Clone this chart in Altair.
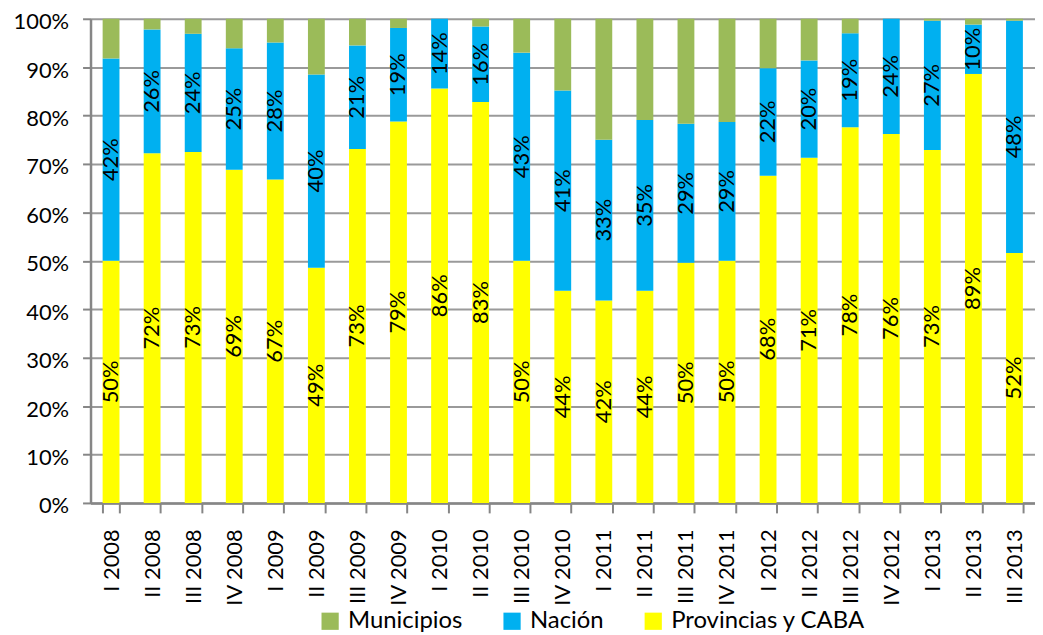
import altair as alt
import pandas as pd

categories = ["I 2008", "II 2008", "III 2008", "IV 2008", "I 2009", "II 2009", "III 2009", "IV 2009",
              "I 2010", "II 2010", "III 2010", "IV 2010", "I 2011", "II 2011", "III 2011", "IV 2011",
              "I 2012", "II 2012", "III 2012", "IV 2012", "I 2013", "II 2013", "III 2013"]
provincias = [50.0, 72.2, 72.5, 68.8, 66.8, 48.6, 73.1, 78.8, 85.6, 82.8, 50.0, 43.8, 41.8, 43.8,
              49.6, 50.0, 67.6, 71.3, 77.6, 76.2, 72.9, 88.6, 51.6]
nacion = [41.8, 25.6, 24.4, 25.1, 28.3, 39.9, 21.4, 19.3, 14.4, 15.6, 43.0, 41.4, 33.2, 35.3,
          28.7, 28.7, 22.2, 20.1, 19.4, 23.8, 26.7, 10.2, 48.0]
municipios = [8.2, 2.2, 3.1, 6.1, 4.9, 11.5, 5.5, 1.9, 0.0, 1.6, 7.0, 14.8, 25.0, 20.9,
              21.7, 21.3, 10.2, 8.6, 3.0, 0.0, 0.4, 1.2, 0.4]
series = ["Municipios", "Nación", "Provincias y CABA"]
colors = ["#9BBB59", "#00B0F0", "#FFFF00"]
stack_order = {"Provincias y CABA": 0, "Nación": 1, "Municipios": 2}

rows = []
for i, c in enumerate(categories):
    for s, vals in (("Provincias y CABA", provincias), ("Nación", nacion), ("Municipios", municipios)):
        rows.append({"cat": c, "serie": s, "value": vals[i] / 100.0, "ord": stack_order[s]})
df = pd.DataFrame(rows)

FONT = "Lato"

base = alt.Chart(df).transform_stack(
    stack="value", groupby=["cat"], as_=["v0", "v1"], sort=[alt.SortField("ord", order="ascending")]
).transform_calculate(mid="(datum.v0 + datum.v1) / 2")

xenc = alt.X("cat:N", sort=categories, title=None,
             scale=alt.Scale(paddingInner=0.59, paddingOuter=0.295),
             axis=alt.Axis(labelAngle=270, labelAlign="right", labelBaseline="middle",
                           labelFont=FONT, labelFontSize=22, labelColor="black",
                           labelPadding=16, tickSize=10, tickBand="extent",
                           tickColor="#868686", tickWidth=2, domainColor="#868686",
                           domainWidth=2.5, grid=False))

bars = base.mark_bar().encode(
    x=xenc,
    y=alt.Y("v0:Q", title=None, scale=alt.Scale(domain=[0, 1], nice=False),
            axis=alt.Axis(format=".0%", values=[i / 10 for i in range(11)],
                          labelFont=FONT, labelFontSize=22, labelColor="black",
                          labelPadding=14, labelOffset=3, tickSize=8, tickColor="#868686", tickWidth=2,
                          domainColor="#868686", domainWidth=2.5,
                          grid=True, gridColor="#9a9a9a", gridWidth=2)),
    y2="v1:Q",
    color=alt.Color("serie:N", scale=alt.Scale(domain=series, range=colors),
                    legend=alt.Legend(title=None, orient="none", direction="horizontal",
                                      legendX=229, legendY=594,
                                      symbolType="square", symbolSize=300,
                                      symbolStrokeWidth=0, symbolOpacity=1,
                                      labelFont=FONT, labelFontSize=24, labelColor="black",
                                      labelLimit=0, columnPadding=37, labelOffset=6)),
)

texts = base.transform_filter("datum.serie != 'Municipios'").mark_text(
    angle=270, align="center", baseline="middle", font=FONT, fontSize=22, color="black", dx=0
).encode(
    x=alt.X("cat:N", sort=categories),
    y=alt.Y("mid:Q"),
    text=alt.Text("value:Q", format=".0%"),
)

chart = alt.layer(bars, texts).properties(
    width=950, height=487,
    autosize=alt.AutoSizeParams(type="none"),
    padding={"left": 83, "top": 9, "right": 0, "bottom": 131},
).configure_view(stroke=None).configure_bar(strokeWidth=0)

chart.save("out.html", embed_options={"renderer": "svg", "actions": False})
